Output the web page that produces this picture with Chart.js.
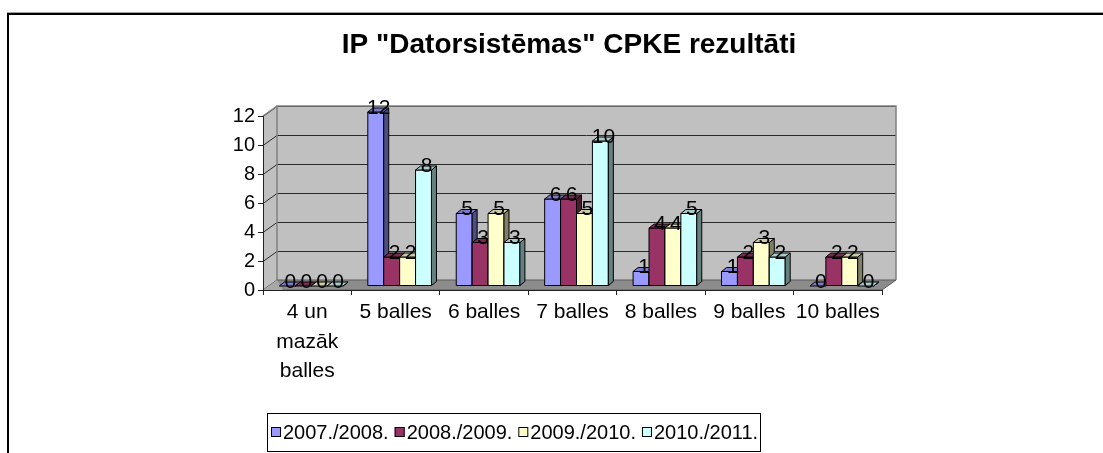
<!DOCTYPE html>
<html>
<head>
<meta charset="utf-8">
<script src="https://cdn.jsdelivr.net/npm/chart.js@4.4.0/dist/chart.umd.min.js"></script>
<style>
  html, body { margin: 0; padding: 0; background: #fff; }
</style>
</head>
<body>
<canvas id="myChart" width="1103" height="453"></canvas>
<script>
// chart data
const categories = [['4 un', 'mazāk', 'balles'], '5 balles', '6 balles', '7 balles', '8 balles', '9 balles', '10 balles'];
const seriesNames = ['2007./2008.', '2008./2009.', '2009./2010.', '2010./2011.'];
const y0708 = [0, 12, 5, 6, 1, 1, 0];
const y0809 = [0, 2, 3, 6, 4, 2, 2];
const y0910 = [0, 2, 5, 5, 4, 3, 2];
const y1011 = [0, 8, 3, 10, 5, 2, 0];
const yTicks = [0, 2, 4, 6, 8, 10, 12];
const titleText = 'IP "Datorsistēmas" CPKE rezultāti';

const seriesColors = ['#9999FF', '#993366', '#FFFFCC', '#CCFFFF'];
const FONT = '"Liberation Sans", Arial, sans-serif';

// 3d look: back wall offset, bar offset from the front plane, bar depth
const WALL_DX = 14, WALL_DY = -10;
const BAR_OX = 4, BAR_OY = -4;
const BAR_DX = 5, BAR_DY = -4;

function shade(hex, f) {
  const n = parseInt(hex.slice(1), 16);
  const r = Math.round(((n >> 16) & 255) * f);
  const g = Math.round(((n >> 8) & 255) * f);
  const b = Math.round((n & 255) * f);
  return `rgb(${r},${g},${b})`;
}

function poly(ctx, pts, fill, stroke) {
  ctx.beginPath();
  ctx.moveTo(pts[0][0], pts[0][1]);
  for (let i = 1; i < pts.length; i++) ctx.lineTo(pts[i][0], pts[i][1]);
  ctx.closePath();
  if (fill) { ctx.fillStyle = fill; ctx.fill(); }
  if (stroke) { ctx.strokeStyle = stroke; ctx.stroke(); }
}

function seg(ctx, x0, y0, x1, y1) {
  ctx.beginPath();
  ctx.moveTo(x0, y0);
  ctx.lineTo(x1, y1);
  ctx.stroke();
}

const excel3d = {
  id: 'excel3d',
  beforeDraw(chart) {
    const { ctx, chartArea: a } = chart;
    const y = chart.scales.y;
    ctx.save();
    ctx.fillStyle = '#fff';
    ctx.fillRect(0, 0, chart.width, chart.height);

    // outer frame (only left and top are in view)
    ctx.fillStyle = '#a0a0a0';
    ctx.fillRect(7, 12, chart.width - 7, 1);
    ctx.fillStyle = '#000';
    ctx.fillRect(7, 13, chart.width - 7, 2);
    ctx.fillRect(7, 13, 2, chart.height - 13);

    // back wall + left wall
    const bl = a.left + WALL_DX, br = a.right + WALL_DX;
    const bt = a.top + WALL_DY, bb = a.bottom + WALL_DY;
    ctx.fillStyle = '#c0c0c0';
    ctx.fillRect(bl, bt, br - bl, bb - bt);
    poly(ctx, [[a.left, a.top], [bl, bt], [bl, bb], [a.left, a.bottom]], '#c0c0c0', null);

    ctx.lineWidth = 1;
    ctx.strokeStyle = '#2a2a2a';
    yTicks.forEach(v => {
      const py = Math.round(y.getPixelForValue(v)) + 0.5;
      seg(ctx, a.left, py, bl, py + WALL_DY);
      seg(ctx, bl, py + WALL_DY, br, py + WALL_DY);
    });
    ctx.strokeStyle = '#808080';
    ctx.lineWidth = 1.5;
    ctx.beginPath();
    ctx.moveTo(bl, bb); ctx.lineTo(bl, bt); ctx.lineTo(br, bt); ctx.lineTo(br, bb);
    ctx.stroke();
    seg(ctx, a.left, a.top, bl, bt);

    // floor
    ctx.lineWidth = 1;
    poly(ctx, [[a.left, a.bottom], [a.right, a.bottom], [br, bb], [bl, bb]], '#8c8c8c', '#5a5a5a');
    poly(ctx, [[a.left, a.bottom], [bl, bb], [bl + 6, a.bottom]], '#a8a8a8', null);

    // title
    ctx.fillStyle = '#000';
    ctx.font = `bold 28px ${FONT}`;
    ctx.textAlign = 'center';
    ctx.textBaseline = 'middle';
    ctx.fillText(titleText, 569, 45);
    ctx.restore();
  },
  beforeDatasetsDraw(chart) {
    const ctx = chart.ctx;
    const metas = chart.data.datasets.map((d, i) => chart.getDatasetMeta(i));
    ctx.save();
    ctx.lineWidth = 1;
    // draw category by category, left series first, so fronts cover the side of the bar before
    for (let c = 0; c < categories.length; c++) {
      metas.forEach((meta, s) => {
        const bar = meta.data[c];
        const { x, y, base, width } = bar.getProps(['x', 'y', 'base', 'width'], true);
        const col = seriesColors[s];
        const x0 = x - width / 2 + BAR_OX, x1 = x + width / 2 + BAR_OX;
        const yt = y + BAR_OY, yb = base + BAR_OY;
        if (yb - yt > 0.5) poly(ctx, [[x0, yt], [x1, yt], [x1, yb], [x0, yb]], col, '#000');
        poly(ctx, [[x1, yt], [x1 + BAR_DX, yt + BAR_DY], [x1 + BAR_DX, yb + BAR_DY], [x1, yb]], shade(col, 0.5), '#000');
        poly(ctx, [[x0, yt], [x1, yt], [x1 + BAR_DX, yt + BAR_DY], [x0 + BAR_DX, yt + BAR_DY]], shade(col, 0.8), '#000');
      });
    }
    // value labels on top
    ctx.fillStyle = '#000';
    ctx.font = `21px ${FONT}`;
    ctx.textAlign = 'center';
    ctx.textBaseline = 'middle';
    metas.forEach((meta, s) => {
      const vals = chart.data.datasets[s].data;
      meta.data.forEach((bar, c) => {
        const { x, y } = bar.getProps(['x', 'y'], true);
        ctx.fillText(String(vals[c]), x + BAR_OX + 3, y + BAR_OY - 4);
      });
    });
    ctx.restore();
    return false;
  },
  afterDraw(chart) {
    const ctx = chart.ctx;
    ctx.save();
    // legend box
    ctx.strokeStyle = '#000';
    ctx.lineWidth = 1;
    ctx.strokeRect(267.5, 413.5, 493, 38);
    ctx.font = `20px ${FONT}`;
    ctx.textBaseline = 'middle';
    ctx.textAlign = 'left';
    let lx = 271;
    seriesNames.forEach((name, i) => {
      ctx.fillStyle = seriesColors[i];
      ctx.fillRect(lx, 427, 10, 10);
      ctx.strokeRect(lx + 0.5, 427.5, 9, 9);
      ctx.fillStyle = '#000';
      ctx.fillText(name, lx + 12, 433);
      lx += 12 + ctx.measureText(name).width + 6;
    });
    ctx.restore();
  }
};

const seriesData = [y0708, y0809, y0910, y1011];

new Chart(document.getElementById('myChart'), {
  type: 'bar',
  data: {
    labels: categories,
    datasets: seriesNames.map((name, i) => ({
      label: name,
      data: seriesData[i],
      backgroundColor: seriesColors[i],
      borderColor: '#000',
      borderWidth: 1,
      categoryPercentage: 0.72,
      barPercentage: 1
    }))
  },
  options: {
    responsive: false,
    animation: false,
    layout: { padding: { top: 116, right: 221, left: 0, bottom: 0 } },
    plugins: {
      legend: { display: false },
      tooltip: { enabled: false },
      title: { display: false }
    },
    scales: {
      x: {
        grid: { display: true, drawOnChartArea: false, drawTicks: true, tickLength: 5, color: '#222', offset: true },
        border: { color: '#222', width: 1 },
        ticks: { font: { family: FONT, size: 21, lineHeight: 1.4 }, color: '#000', padding: 3, maxRotation: 0, autoSkip: false },
        afterFit: s => { s.height = 163; }
      },
      y: {
        min: 0,
        max: 12,
        afterBuildTicks: s => { s.ticks = yTicks.map(v => ({ value: v })); },
        grid: { display: true, drawOnChartArea: false, drawTicks: true, tickLength: 5, color: '#222' },
        border: { color: '#222', width: 1 },
        ticks: { font: { family: FONT, size: 20 }, color: '#000', padding: 3 },
        afterFit: s => { s.width = 263; }
      }
    }
  },
  plugins: [excel3d]
});
</script>
</body>
</html>
